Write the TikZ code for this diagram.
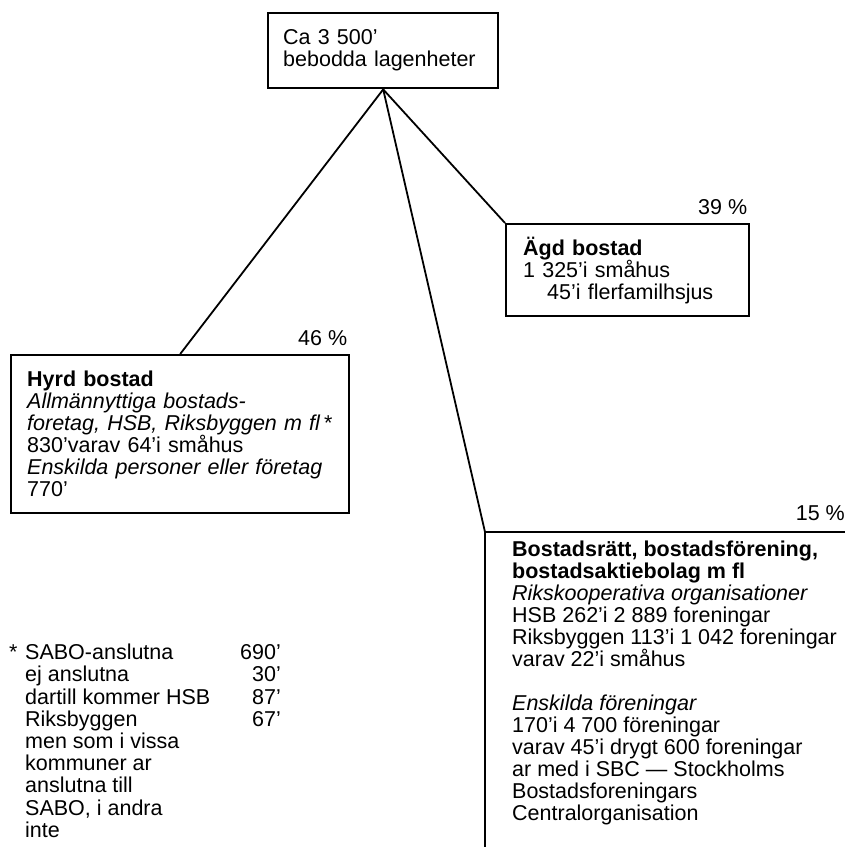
\documentclass[tikz,border=0pt]{standalone}
\usepackage{fontspec}
\setmainfont{Liberation Sans}
\usetikzlibrary{positioning}
\tikzset{x=1pt, y=-1pt}
\tikzset{txt/.style={font=\fontsize{21.5}{22}\selectfont}}
\tikzset{box/.style={txt,draw,line width=2.4pt,rectangle,anchor=north west,align=left,inner ysep=0pt}}
\tikzset{pct/.style={txt,inner sep=0pt,anchor=south east}}
\tikzset{link/.style={line width=1.8pt}}
\tikzset{frame/.style={line width=2.2pt}}

\begin{document}
\begin{tikzpicture}
  \useasboundingbox (0,0) rectangle (845,847);

  \node[box, text width=200pt, inner xsep=15pt, minimum height=75pt] (total) at (267,12)
    {Ca 3 500'\\ bebodda lagenheter};

  \node[box, text width=306pt, inner xsep=16pt, minimum height=158pt] (hyrd) at (10,354)
    {\textbf{Hyrd bostad}\\
     \textit{Allmännyttiga bostads-}\\
     \mbox{\textit{foretag, HSB, Riksbyggen m fl}\,*}\\
     830'varav 64'i småhus\\
     \textit{Enskilda personer eller företag}\\
     770'};
  \node[pct] (p46) at ([shift={(-3pt,8pt)}]hyrd.north east) {46 \%};

  \node[box, text width=209pt, inner xsep=17pt, minimum height=92pt] (agd) at (505,223)
    {\textbf{Ägd bostad}\\
     1 325'i småhus\\
     \hspace*{24pt}45'i flerfamilhsjus};
  \node[pct] (p39) at ([shift={(-3pt,8pt)}]agd.north east) {39 \%};

  % bostadsrätt, open frame
  \coordinate (brc) at (485,532);
  \coordinate (brr) at (845,532);
  \coordinate (brb) at (485,847);
  \node[txt, anchor=north west, align=left, inner xsep=27pt, inner ysep=9pt] (bratt) at (brc)
    {\textbf{Bostadsrätt, bostadsförening,}\\
     \textbf{bostadsaktiebolag m fl}\\
     \textit{Rikskooperativa organisationer}\\
     HSB 262'i 2 889 foreningar\\
     Riksbyggen 113'i 1 042 foreningar\\
     varav 22'i småhus\\[22pt]
     \textit{Enskilda föreningar}\\
     170'i 4 700 föreningar\\
     varav 45'i drygt 600 foreningar\\
     ar med i SBC — Stockholms\\
     Bostadsforeningars\\
     Centralorganisation};
  \node[pct] (p15) at ([shift={(0pt,11pt)}]brr) {15 \%};
  \draw[frame] (brr) -- (brc) -- (brb);

  % fotnot
  \node[txt, anchor=north west, inner sep=0pt] (fotnot) at (9,644)
    {\begin{tabular}{@{}p{16pt}@{}p{215pt}@{}r@{}}
     * & SABO-anslutna & 690'\\
       & ej anslutna & 30'\\
       & dartill kommer HSB & 87'\\
       & Riksbyggen & 67'\\
       & men som i vissa & \\
       & kommuner ar & \\
       & anslutna till & \\
       & SABO, i andra & \\
       & inte &
     \end{tabular}};

  \draw[link] (total.south) -- (hyrd.north);
  \draw[link] (total.south) -- (agd.north west);
  \draw[link] (total.south) -- (brc);
\end{tikzpicture}
\end{document}
